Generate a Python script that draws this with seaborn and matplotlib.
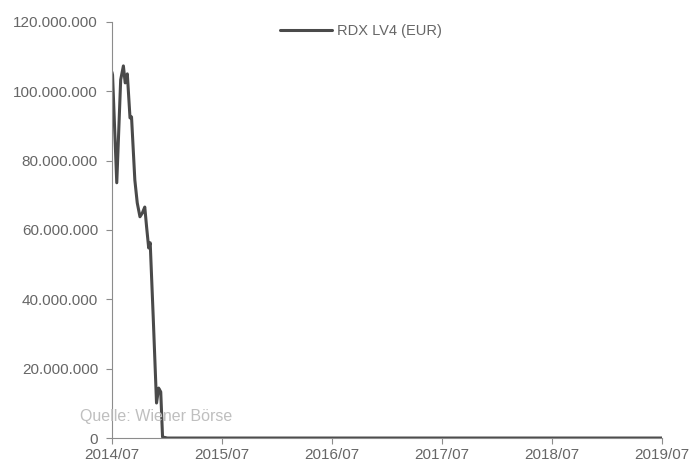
import pandas as pd
import seaborn as sns
import matplotlib.pyplot as plt
import matplotlib.dates as mdates
from matplotlib.ticker import FuncFormatter

# early part (weekly-ish)
dates_start = ['2014-07-01', '2014-07-03', '2014-07-17', '2014-07-30', '2014-08-08',
               '2014-08-14', '2014-08-21', '2014-08-30', '2014-09-04', '2014-09-15',
               '2014-09-23', '2014-10-02', '2014-10-10', '2014-10-18', '2014-10-24',
               '2014-10-31', '2014-11-05', '2014-11-15', '2014-11-26', '2014-12-03',
               '2014-12-10', '2014-12-16']
values_start = [105.5e6, 104.7e6, 73.6e6, 103.3e6, 107.3e6,
                102.4e6, 105.0e6, 92.3e6, 92.6e6, 74.4e6,
                67.8e6, 63.8e6, 64.9e6, 66.6e6, 60.9e6,
                54.8e6, 56.3e6, 34.9e6, 10.1e6, 14.4e6,
                13.3e6, 0.3e6]
# after that the volume stays at (about) zero
dates_rest = [d.strftime('%Y-%m-%d') for d in pd.date_range('2015-01-01', '2019-07-01', freq='MS')]
values_rest = [0.0] * len(dates_rest)

series_name = 'RDX LV4 (EUR)'
source_text = 'Quelle: Wiener Börse'

df = pd.DataFrame({'Datum': pd.to_datetime(dates_start + dates_rest),
                   'Wert': values_start + values_rest,
                   'Serie': series_name})

sns.set_theme(style="ticks")
plt.rcParams['font.family'] = ['Liberation Sans', 'DejaVu Sans']
grey = '#666666'

fig = plt.figure(figsize=(6.91, 4.65), dpi=100)
ax = fig.add_axes([0.162, 0.058, 0.796, 0.895])

sns.lineplot(data=df, x='Datum', y='Wert', hue='Serie', palette=['#4a4a4a'],
             linewidth=2.2, ax=ax)

ax.set_xlim(pd.Timestamp('2014-07-01'), pd.Timestamp('2019-07-01'))
ax.set_ylim(0, 120e6)
ax.set_yticks(range(0, 120000001, 20000000))
ax.yaxis.set_major_formatter(FuncFormatter(lambda v, p: f'{v:,.0f}'.replace(',', '.')))
ax.xaxis.set_major_locator(mdates.MonthLocator(bymonth=7))
ax.xaxis.set_major_formatter(mdates.DateFormatter('%Y/%m'))

ax.set_xlabel('')
ax.set_ylabel('')
for s in ['top', 'right']:
    ax.spines[s].set_visible(False)
for s in ['left', 'bottom']:
    ax.spines[s].set_color('#8c8c8c')
    ax.spines[s].set_linewidth(0.8)
ax.tick_params(axis='both', colors='#8c8c8c', labelcolor=grey, labelsize=11,
               length=4, width=0.8, direction='out')
ax.tick_params(axis='x', pad=3)
ax.tick_params(axis='y', pad=6)

leg = ax.legend(loc='upper center', bbox_to_anchor=((361 - 112) / 550, 1.016), frameon=False,
                fontsize=10.5, handlelength=3.6, handletextpad=0.35, borderaxespad=0.2)
for t in leg.get_texts():
    t.set_color(grey)

fig.text(80 / 691, 1 - 417 / 465, source_text, color='#bfbfbf', fontsize=11.5,
         va='center', ha='left')

plt.savefig('out.png', dpi=100)
